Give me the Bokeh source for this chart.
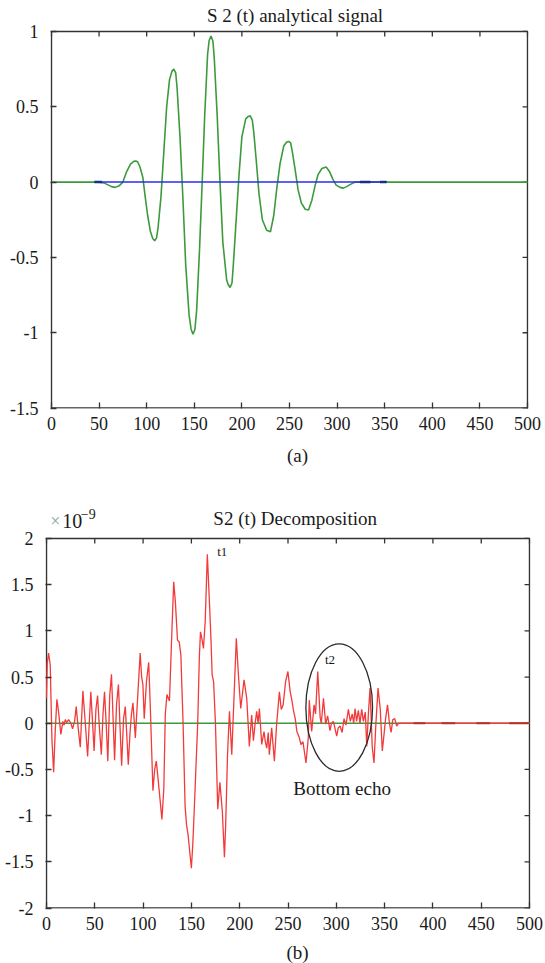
from bokeh.plotting import figure
from bokeh.models import Range1d, FixedTicker, Label
from bokeh.layouts import column
from bokeh.embed import file_html
from bokeh.resources import INLINE

FONT = "Liberation Serif"

# ---------------- data ----------------
X_TICKS = [0, 50, 100, 150, 200, 250, 300, 350, 400, 450, 500]
TOP_Y_TICKS = [-1.5, -1, -0.5, 0, 0.5, 1]
TOP_Y_LABELS = ["-1.5", "-1", "-0.5", "0", "0.5", "1"]
BOT_Y_TICKS = [-2, -1.5, -1, -0.5, 0, 0.5, 1, 1.5, 2]
BOT_Y_LABELS = ["-2", "-1.5", "-1", "-0.5", "0", "0.5", "1", "1.5", "2"]

# S2(t) analytical signal (green, real part)
TOP_T = [0, 50, 55, 60, 63, 67, 71, 75, 79, 83, 86.5, 88.5, 90.5, 93, 96, 98.5, 101, 104,
         106.4, 108.4, 110.4, 112, 115, 118, 121, 124, 126.5, 128.5, 130.5, 132, 135, 138,
         141, 144.5, 146.6, 148.6, 150.6, 152.5, 155.5, 158, 161, 164, 165.6, 167.6,
         169.6, 171, 174, 177, 180, 184, 185.6, 187.6, 189.6, 191, 194, 197, 200, 204,
         206.5, 208.8, 211, 212.5, 215, 218, 221.5, 226, 230, 233.5, 236.5, 240, 244,
         246.8, 249, 251.2, 253, 256, 259, 262.5, 266.5, 270, 273.5, 277, 280, 284,
         288.5, 292, 295.5, 299, 303, 306.5, 310, 314, 319, 500]
TOP_V = [0, 0, -0.005, -0.02, -0.03, -0.035, -0.025, 0.0, 0.07, 0.12, 0.138, 0.14, 0.135,
         0.1, 0.03, -0.1, -0.22, -0.33, -0.375, -0.39, -0.37, -0.3, -0.1, 0.2, 0.5, 0.68,
         0.735, 0.75, 0.725, 0.62, 0.3, -0.1, -0.55, -0.88, -0.975, -1.01, -0.98, -0.85,
         -0.45, -0.05, 0.45, 0.85, 0.94, 0.97, 0.935, 0.82, 0.45, 0.0, -0.4, -0.65, -0.68,
         -0.70, -0.67, -0.55, -0.25, 0.05, 0.3, 0.42, 0.435, 0.44, 0.41, 0.33, 0.15, -0.08,
         -0.25, -0.32, -0.33, -0.22, -0.05, 0.12, 0.24, 0.265, 0.27, 0.26, 0.2, 0.08,
         -0.05, -0.14, -0.18, -0.185, -0.12, -0.02, 0.05, 0.09, 0.10, 0.07, 0.02, -0.02,
         -0.035, -0.04, -0.03, -0.015, 0, 0]
# blue trace (imaginary part, flat) and its dark dashes
BLUE_T = [50, 352]
BLUE_V = [0, 0]
BLUE_DASH_START = [45, 324, 345]
BLUE_DASH_END = [53, 335, 352]

# S2(t) decomposition (red), units of 1e-9
S2_T = [0, 0.8, 2.2, 3.9, 5.6, 7.4, 9.1, 10.8, 12.5, 14.9, 17, 18.3, 19.4, 21, 22.9,
        25.3, 27, 29.1, 30.8, 32.8, 35.0, 37.7, 40.2, 42.6, 45.9, 47.5, 49.3, 51.2,
        52.9, 54.8, 56.8, 58.5, 60.1, 61.8, 63.5, 65.5, 67.3, 68.8, 70.5, 72.5, 74.5,
        76.0, 77.8, 79.8, 81.6, 83.0, 84.7, 86.5, 88.0, 89.5, 91.0, 92.0, 94.5, 97,
        98.5, 99.8, 101.2, 103.5, 105.8, 107.4, 110.2, 112, 113.7, 115.5, 119.5, 121.5,
        123, 124.7, 127.3, 129.5, 131.7, 133.5, 135.6, 137.4, 139.1, 141.4, 143.5, 145,
        146.5, 150, 151.5, 153.5, 156.6, 158.2, 159.4, 160.8, 162.5, 164.3, 166.5,
        168.8, 170.3, 171.5, 173, 174.9, 177.3, 179.5, 182, 184.2, 185.5, 187.4, 189.4,
        191.8, 194.2, 196.5, 198.7, 201.1, 204.5, 207.3, 210, 212.4, 214.2, 216, 217.6,
        219, 220.4, 222.8, 225.2, 226.5, 228, 229.5, 230.7, 233.1, 235.9, 238.3, 241.1,
        243, 245, 247.5, 249.9, 252.3, 254, 255.8, 257.5, 259.2, 261.5, 263.4, 265.5,
        268.6, 271, 272, 274.5, 277, 278.5, 280.8, 283.3, 284.5, 286.7, 289, 291, 293.5,
        295, 297, 298.5, 300.4, 302, 303.9, 306, 308, 310, 312.5, 314.5, 316.5, 318,
        319.4, 321, 322.8, 324.5, 326.3, 328, 330, 331.5, 333.2, 334.9, 337.2, 339, 341,
        343.2, 345.5, 347.6, 349.4, 351, 353, 355, 356.7, 358.5, 360.5, 362.5, 364.5, 500]
S2_V = [0.27, 0.65, 0.76, 0.63, -0.16, -0.53, -0.08, 0.26, 0.13, -0.12, 0.02, -0.02, 0.04,
        0.01, 0.04, 0.0, -0.06, 0.02, 0.18, -0.05, -0.26, 0.35, 0.0, -0.36, 0.34, 0.05,
        -0.30, 0.15, 0.30, -0.05, -0.34, 0.1, 0.34, 0.0, -0.41, 0.3, 0.53, 0.1, -0.40,
        0.2, 0.42, 0.0, -0.46, 0.05, 0.18, -0.1, -0.45, -0.1, 0.1, 0.22, 0.0, -0.16, 0.3,
        0.76, 0.5, 0.42, 0.05, 0.45, 0.66, 0.2, -0.73, -0.5, -0.41, -0.6, -1.04, -0.7,
        0.1, 0.31, 0.24, 0.9, 1.53, 1.3, 0.9, 0.88, 0.74, 0.0, -0.9, -1.1, -1.2, -1.57,
        -1.3, -0.8, 0.02, 0.7, 0.99, 0.92, 0.81, 1.1, 1.83, 1.28, 0.9, 0.52, 0.45, 0.0,
        -0.93, -0.64, -0.95, -1.45, -1.1, -0.34, 0.13, -0.34, 0.3, 0.92, 0.52, 0.16, 0.47,
        0.27, -0.25, 0.09, -0.19, 0.0, 0.13, 0.0, 0.16, -0.23, -0.09, -0.2, -0.27, -0.1,
        -0.34, -0.05, -0.41, 0.0, 0.34, 0.15, 0.2, 0.45, 0.56, 0.34, 0.25, 0.13, 0.05,
        -0.09, -0.15, -0.23, -0.2, -0.43, -0.16, 0.25, -0.09, 0.2, 0.1, 0.56, 0.06, 0.0,
        0.27, -0.01, 0.08, -0.08, 0.0, 0.02, -0.05, -0.14, -0.05, -0.03, -0.1, 0.05,
        -0.02, 0.15, 0.02, 0.1, 0.0, 0.16, 0.02, 0.14, 0.0, 0.15, 0.02, 0.12, -0.25, 0.1,
        0.38, -0.26, -0.43, 0.0, 0.38, 0.15, -0.3, -0.12, 0.05, 0.2, 0.0, -0.1, 0.04,
        0.05, -0.03, 0.0, 0.0]
RED_DASH_START = [380, 409, 445, 479]
RED_DASH_END = [392, 423, 459, 499]
ZERO_T = [0, 500]
ZERO_V = [0, 0]

# "Bottom echo" ellipse (centre t, centre value, width, height)
ECHO_X, ECHO_Y, ECHO_W, ECHO_H = 303, 0.17, 69, 1.38

W = 545
TICK_PX = 5
AX = "#333333"


def no_align(p):
    if "frame_align" in p.properties():
        p.frame_align = False


def chart(height, left, frame_w, frame_h, y_lo, y_hi, yticks, ylabels):
    """Figure whose frame also holds the title area above the box.
    Box spans x 0..500 and y yticks[0]..yticks[-1]."""
    p = figure(width=W, height=height, output_backend="svg", toolbar_location=None,
               title=None, x_range=Range1d(-1, 501), y_range=Range1d(y_lo, y_hi),
               min_border_left=left, min_border_right=W - left - frame_w,
               min_border_top=0, min_border_bottom=height - frame_h)
    no_align(p)
    p.outline_line_color = None
    p.background_fill_color = "white"
    p.border_fill_color = "white"
    p.grid.visible = False
    p.xaxis.ticker = FixedTicker(ticks=X_TICKS)
    p.yaxis.ticker = FixedTicker(ticks=yticks)
    p.yaxis.major_label_overrides = {t: s for t, s in zip(yticks, ylabels)}
    for ax in p.axis:
        ax.axis_line_color = None
        ax.major_tick_in = TICK_PX + 1
        ax.major_tick_out = 0
        ax.major_tick_line_color = AX
        ax.major_tick_line_width = 1.3
        ax.minor_tick_line_color = None
        ax.major_label_text_font = FONT
        ax.major_label_text_font_size = "18px"
        ax.major_label_text_color = "#1a1a1a"
    p.xaxis.major_label_standoff = 8
    p.yaxis.major_label_standoff = 12
    y0, y1 = yticks[0], yticks[-1]
    x0, x1 = X_TICKS[0], X_TICKS[-1]
    # box
    p.quad(left=[x0], right=[x1], bottom=[y0], top=[y1], fill_color=None,
           line_color=AX, line_width=1.5)
    # inward ticks on the top and right edges of the box
    dy = TICK_PX * (y_hi - y_lo) / frame_h
    dx = TICK_PX * 502 / frame_w
    p.segment(x0=X_TICKS, y0=[y1] * len(X_TICKS), x1=X_TICKS, y1=[y1 - dy] * len(X_TICKS),
              line_color=AX, line_width=1.3)
    p.segment(x0=[x1] * len(yticks), y0=yticks, x1=[x1 - dx] * len(yticks), y1=yticks,
              line_color=AX, line_width=1.3)
    return p


def strip(h):
    s = figure(width=W, height=h, output_backend="svg", toolbar_location=None,
               title=None, x_axis_type=None, y_axis_type=None,
               x_range=Range1d(0, W), y_range=Range1d(h, 0), min_border=0)
    no_align(s)
    s.outline_line_color = None
    s.grid.visible = False
    s.background_fill_color = "white"
    s.border_fill_color = "white"
    return s


def lab(p, x, y, text, size, align="center", color="#1a1a1a"):
    p.add_layout(Label(x=x, y=y, text=text, text_font=FONT, text_font_size=size,
                       text_align=align, text_baseline="middle", text_color=color))


# ---------------- top chart (frame from page top to the box bottom) ----------------
FW1, FH1 = 478, 408
p1 = chart(FH1 + 32, 50, FW1, FH1, -1.503, 1.2056, TOP_Y_TICKS, TOP_Y_LABELS)
p1.line(TOP_T, TOP_V, line_color="#3c9a3c", line_width=1.6)
p1.line(BLUE_T, BLUE_V, line_color="#2b2bf0", line_width=1.5)
p1.segment(x0=BLUE_DASH_START, y0=[0] * len(BLUE_DASH_START), x1=BLUE_DASH_END,
           y1=[0] * len(BLUE_DASH_END), line_color="#1c2d86", line_width=2.5)
lab(p1, 255.8, 1.106, "S 2 (t) analytical signal", "19px")

# ---------------- caption (a) ----------------
mid = strip(58)
lab(mid, 297, 15, "(a)", "19px")

# ---------------- bottom chart ----------------
FW2, FH2 = 485, 410
p2 = chart(FH2 + 32, 45, FW2, FH2, -2.005, 2.4324, BOT_Y_TICKS, BOT_Y_LABELS)
p2.line(ZERO_T, ZERO_V, line_color="#3c9a3c", line_width=1.5)
p2.line(S2_T, S2_V, line_color="#f23a3a", line_width=1.3)
p2.segment(x0=RED_DASH_START, y0=[0] * len(RED_DASH_START), x1=RED_DASH_END,
           y1=[0] * len(RED_DASH_END), line_color="#b83030", line_width=2)
p2.ellipse(x=[ECHO_X], y=[ECHO_Y], width=[ECHO_W], height=[ECHO_H],
           fill_color=None, line_color="#2a2a2a", line_width=1.3)
lab(p2, 257.4, 2.216, "S2 (t) Decomposition", "19px")
lab(p2, 3.9, 2.184, "\u00d7", "18px", align="left", color="#8aa396")
lab(p2, 16.3, 2.184, "10", "20px", align="left")
lab(p2, 35.5, 2.27, "\u22129", "14px", align="left")
lab(p2, 181.9, 1.86, "t1", "13px")
lab(p2, 293.5, 0.69, "t2", "13px")
lab(p2, 306, -0.71, "Bottom echo", "19px")

# ---------------- caption (b) ----------------
foot = strip(23)
lab(foot, 297, 12, "(b)", "19px")

layout = column(p1, mid, p2, foot, spacing=0)
open("out.html", "w").write(file_html(layout, INLINE))
